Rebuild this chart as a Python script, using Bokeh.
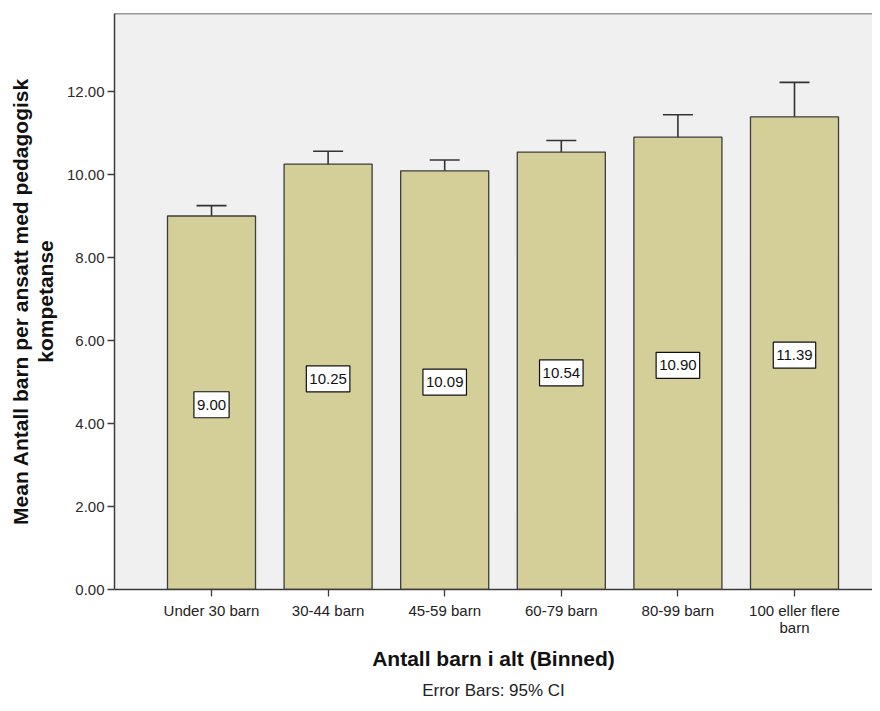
from bokeh.plotting import figure
from bokeh.models import (ColumnDataSource, FixedTicker, Range1d, Whisker, TeeHead,
                          Span, Title, NumeralTickFormatter)
from bokeh.core.properties import value
from bokeh.embed import file_html
from bokeh.resources import INLINE

categories = ["Under 30 barn", "30-44 barn", "45-59 barn", "60-79 barn", "80-99 barn", "100 eller flere\nbarn"]
means = [9.00, 10.25, 10.09, 10.54, 10.90, 11.39]
ci_lower = [8.77, 9.94, 9.82, 10.26, 10.38, 10.56]
ci_upper = [9.25, 10.56, 10.35, 10.82, 11.44, 12.22]
mean_labels = ["9.00", "10.25", "10.09", "10.54", "10.90", "11.39"]
y_ticks = [0, 2, 4, 6, 8, 10, 12]

idx = list(range(len(categories)))
src = ColumnDataSource(dict(
    x=idx, mean=means, lo=ci_lower, hi=ci_upper,
    lab=mean_labels, half=[m / 2 for m in means],
))

FONT = "Liberation Sans"
DARK = "#3c3c3c"

p = figure(width=872, height=703, output_backend="svg", toolbar_location=None,
           x_range=Range1d(-0.832, 5.669), y_range=Range1d(0, 13.88),
           min_border_left=114, min_border_right=0, min_border_top=13, min_border_bottom=114)

p.background_fill_color = "#f0f0f0"
p.border_fill_color = "white"
p.outline_line_color = None
p.grid.visible = False

p.vbar(x="x", top="mean", width=0.755, source=src, fill_color="#d4cf99",
       line_color=DARK, line_width=1.3)

w = Whisker(base="x", lower="lo", upper="hi", source=src, line_color="#333333", line_width=1.6,
            upper_head=TeeHead(size=30, line_color="#333333", line_width=1.6),
            lower_head=TeeHead(size=30, line_color="#333333", line_width=1.6))
p.add_layout(w)

p.text(x="x", y="half", text="lab", source=src, text_align="center", text_baseline="middle",
       text_font=value(FONT), text_font_size="15px", text_color="#111111",
       background_fill_color="white", border_line_color="#111111", border_line_width=1.2,
       padding=(3, 8), y_offset=2)

p.add_layout(Span(location=13.88, dimension="width", line_color=DARK, line_width=1.5))

# y axis
ya = p.yaxis[0]
ya.ticker = FixedTicker(ticks=y_ticks)
ya.formatter = NumeralTickFormatter(format="0.00")
ya.major_tick_out = 7
ya.major_tick_in = 0
ya.minor_tick_line_color = None
ya.axis_line_color = DARK
ya.axis_line_width = 1.5
ya.major_tick_line_color = DARK
ya.major_tick_line_width = 1.3
ya.major_label_text_font = FONT
ya.major_label_text_font_size = "15px"
ya.major_label_text_color = "#2a2a2a"
ya.major_label_standoff = 3
ya.axis_label = "Mean Antall barn per ansatt med pedagogisk\nkompetanse"
ya.axis_label_text_font = FONT
ya.axis_label_text_font_size = "21px"
ya.axis_label_text_font_style = "bold"
ya.axis_label_text_color = "#111111"
ya.axis_label_text_line_height = 1.1
ya.axis_label_standoff = 7

# x axis
xa = p.xaxis[0]
xa.ticker = FixedTicker(ticks=idx)
xa.major_label_overrides = {i: c for i, c in zip(idx, categories)}
xa.major_tick_out = 7
xa.major_tick_in = 0
xa.minor_tick_line_color = None
xa.axis_line_color = DARK
xa.axis_line_width = 1.5
xa.major_tick_line_color = DARK
xa.major_tick_line_width = 1.3
xa.major_label_text_font = FONT
xa.major_label_text_font_size = "15px"
xa.major_label_text_color = "#222222"
xa.major_label_text_line_height = 1.05
xa.major_label_standoff = 5

p.add_layout(Title(text="Antall barn i alt (Binned)", align="center", text_font=FONT,
                   text_font_size="21px", text_font_style="bold", text_color="#111111",
                   standoff=10, offset=9), "below")
p.add_layout(Title(text="Error Bars: 95% CI", align="center", text_font=FONT,
                   text_font_size="17px", text_font_style="normal", text_color="#222222",
                   standoff=8, offset=-51), "below")

open("out.html", "w").write(file_html(p, INLINE))
